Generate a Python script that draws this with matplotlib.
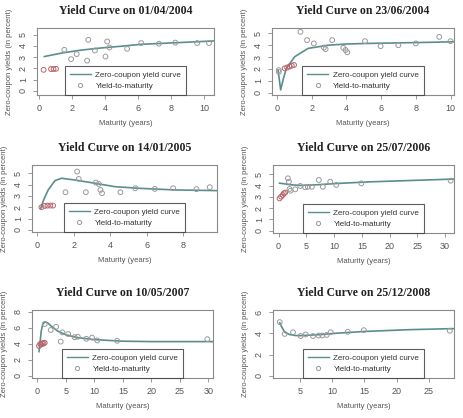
import matplotlib
matplotlib.use("Agg")
import matplotlib.pyplot as plt
from matplotlib.lines import Line2D

plt.rcParams["font.family"] = ["Liberation Sans", "DejaVu Sans"]

dates = ["01/04/2004", "23/06/2004", "14/01/2005",
         "25/07/2006", "10/05/2007", "25/12/2008"]

# zero-coupon curve
curve_x = [
    [0.34, 1.5, 2.5, 3.6, 5.0, 6.2, 8.0, 10.75],
    [0.06, 0.21, 0.35, 0.54, 1.02, 1.79, 2.95, 4.0, 5.26, 8.0, 10.3],
    [0.18, 0.35, 0.59, 0.96, 1.32, 2.05, 3.15, 4.25, 5.53, 7.55, 9.9],
    [0.18, 1.0, 2.0, 4.0, 7.0, 10.1, 16.1, 24.0, 32.0],
    [0.3, 0.5, 0.7, 0.95, 1.3, 1.8, 2.5, 3.5, 5.0, 7.0, 10.0, 15.0, 20.0, 31.0],
    [1.8, 2.2, 2.6, 3.3, 4.2, 5.1, 7.7, 10.3, 15.0, 22.0, 29.0],
]
curve_y = [
    [3.06, 3.4, 3.62, 3.8, 3.98, 4.15, 4.27, 4.46],
    [1.9, 0.23, 1.1, 2.05, 3.03, 3.73, 4.0, 4.1, 4.15, 4.22, 4.29],
    [1.91, 2.7, 3.53, 4.35, 4.56, 4.41, 4.12, 3.82, 3.68, 3.53, 3.47],
    [4.22, 4.17, 4.08, 4.02, 4.08, 4.18, 4.33, 4.46, 4.59],
    [3.0, 4.3, 5.6, 6.4, 6.72, 6.6, 6.15, 5.6, 5.1, 4.75, 4.5, 4.3, 4.25, 4.25],
    [5.0, 4.5, 4.1, 3.9, 3.8, 3.79, 3.87, 4.0, 4.18, 4.35, 4.45],
]

# yield-to-maturity, short end (red) and the rest (grey)
short_x = [
    [0.3, 0.75, 0.9, 1.05],
    [0.44, 0.58, 0.72, 0.85, 0.98],
    [0.22, 0.4, 0.55, 0.71, 0.86],
    [0.18, 0.47, 0.77, 0.95, 1.19],
    [0.3, 0.5, 0.7, 0.9, 1.1, 1.3],
    [],
]
short_y = [
    [1.88, 1.95, 1.95, 1.97],
    [2.05, 2.12, 2.2, 2.27, 2.33],
    [2.0, 2.12, 2.15, 2.15, 2.15],
    [2.87, 3.02, 3.17, 3.32, 3.38],
    [3.7, 3.95, 3.9, 4.05, 4.0, 4.1],
    [],
]
ytm_x = [
    [1.55, 1.96, 2.3, 2.93, 3.0, 3.4, 4.04, 4.14, 4.28, 5.35, 6.2, 7.27, 8.26, 9.58, 10.3],
    [0.1, 0.1, 1.35, 1.73, 2.12, 2.7, 2.8, 3.18, 3.82, 3.95, 4.05, 5.07, 5.97, 6.99, 8.0, 9.35, 10.0],
    [1.54, 2.18, 2.27, 2.66, 3.21, 3.37, 3.46, 3.55, 4.56, 5.38, 6.45, 7.46, 8.74, 9.47],
    [1.68, 1.86, 1.98, 2.16, 3.0, 3.9, 4.8, 5.28, 6.0, 7.26, 7.98, 9.3, 10.4, 14.9, 31.0],
    [1.3, 2.35, 3.3, 4.1, 4.4, 5.4, 6.55, 7.1, 8.6, 9.6, 10.5, 14.0, 29.8],
    [1.8, 2.57, 3.87, 5.06, 5.84, 6.98, 7.86, 8.43, 9.1, 9.73, 12.4, 14.9, 28.3],
]
ytm_y = [
    [3.66, 2.83, 3.28, 2.7, 4.55, 3.6, 3.06, 4.4, 3.87, 3.75, 4.26, 4.2, 4.3, 4.26, 4.26],
    [1.9, 1.75, 5.13, 4.43, 4.15, 3.8, 3.67, 4.43, 3.78, 3.59, 3.4, 4.34, 3.92, 4.0, 4.15, 4.7, 4.34],
    [3.33, 5.15, 4.5, 3.33, 4.18, 4.06, 3.53, 3.24, 3.33, 3.68, 3.62, 3.68, 3.6, 3.77],
    [4.65, 4.35, 3.7, 3.55, 3.67, 3.97, 3.85, 3.9, 3.9, 4.5, 3.9, 4.35, 4.06, 4.2, 4.44],
    [6.45, 5.7, 6.1, 4.25, 5.4, 5.2, 4.8, 4.85, 4.6, 4.75, 4.4, 4.35, 4.55],
    [5.06, 3.95, 4.1, 3.75, 3.9, 3.75, 3.8, 3.8, 3.85, 4.1, 4.15, 4.3, 4.25],
]

# layout (pixels on a 464x418 canvas) and axis ranges per panel
W, H = 464, 418
boxes = [(37, 214, 28, 95), (272, 454, 28, 95),
         (32, 217, 165, 232), (273, 454, 165, 233),
         (32, 213, 310, 378), (273, 454, 310, 378)]
xlims = [(-0.1, 10.6), (-0.29, 10.2), (-0.3, 9.87),
         (-1.0, 31.6), (-0.93, 30.8), (0.75, 28.95)]
ylims = [(-0.36, 5.6), (-0.2, 5.45), (-0.18, 5.73),
         (-0.2, 5.83), (-0.3, 8.2), (-0.2, 6.2)]
xticks = [range(0, 11, 2), range(0, 11, 2), range(0, 9, 2),
          range(0, 31, 5), range(0, 31, 5), range(5, 26, 5)]
yticks = [range(0, 6), range(0, 6), range(0, 6),
          range(0, 6), range(0, 9, 2), range(0, 7, 2)]

curve_col = "#5b8e8b"
grey_pt = "#9a9a9a"
red_pt = "#b5666c"
frame = "#8a8a8a"
txt = "#555555"

fig = plt.figure(figsize=(W / 100, H / 100), dpi=100)

for i in range(6):
    l, r, t, b = boxes[i]
    ax = fig.add_axes([l / W, 1 - b / H, (r - l) / W, (b - t) / H])
    ax.plot(curve_x[i], curve_y[i], color=curve_col, lw=1.2)
    ax.scatter(ytm_x[i], ytm_y[i], s=12, facecolors="none",
               edgecolors=grey_pt, linewidths=0.7, zorder=3)
    if short_x[i]:
        ax.scatter(short_x[i], short_y[i], s=12, facecolors="none",
                   edgecolors=red_pt, linewidths=0.7, zorder=3)
    ax.set_xlim(*xlims[i])
    ax.set_ylim(*ylims[i])
    ax.set_xticks(list(xticks[i]))
    ax.set_yticks(list(yticks[i]))
    ax.tick_params(labelsize=6.5, colors=frame, labelcolor=txt, length=3, width=0.6)
    for lab in ax.get_yticklabels():
        lab.set_rotation(90)
        lab.set_va("center")
    for s in ax.spines.values():
        s.set_color(frame)
        s.set_linewidth(0.8)
    ax.set_xlabel("Maturity (years)", fontsize=5.5, color=txt, labelpad=5)
    ax.set_ylabel("Zero-coupon yields (in percent)", fontsize=5.5, color=txt, labelpad=4)
    ax.set_title("Yield Curve on " + dates[i], fontsize=8.5, fontweight="bold",
                 family="Liberation Serif", color="#222222", pad=10)
    handles = [Line2D([], [], color=curve_col, lw=1.0),
               Line2D([], [], ls="none", marker="o", mfc="none", mec=grey_pt,
                      ms=3, mew=0.7)]
    leg = ax.legend(handles, ["Zero-coupon yield curve", "Yield-to-maturity"],
                    loc="lower center", fontsize=5.8, frameon=True, fancybox=False,
                    borderaxespad=0, handlelength=2.6, handletextpad=0.6,
                    labelspacing=0.45, borderpad=0.6)
    leg.get_frame().set_edgecolor("#333333")
    leg.get_frame().set_linewidth(0.8)
    for t in leg.get_texts():
        t.set_color("#333333")

fig.savefig("out.png", dpi=100)
